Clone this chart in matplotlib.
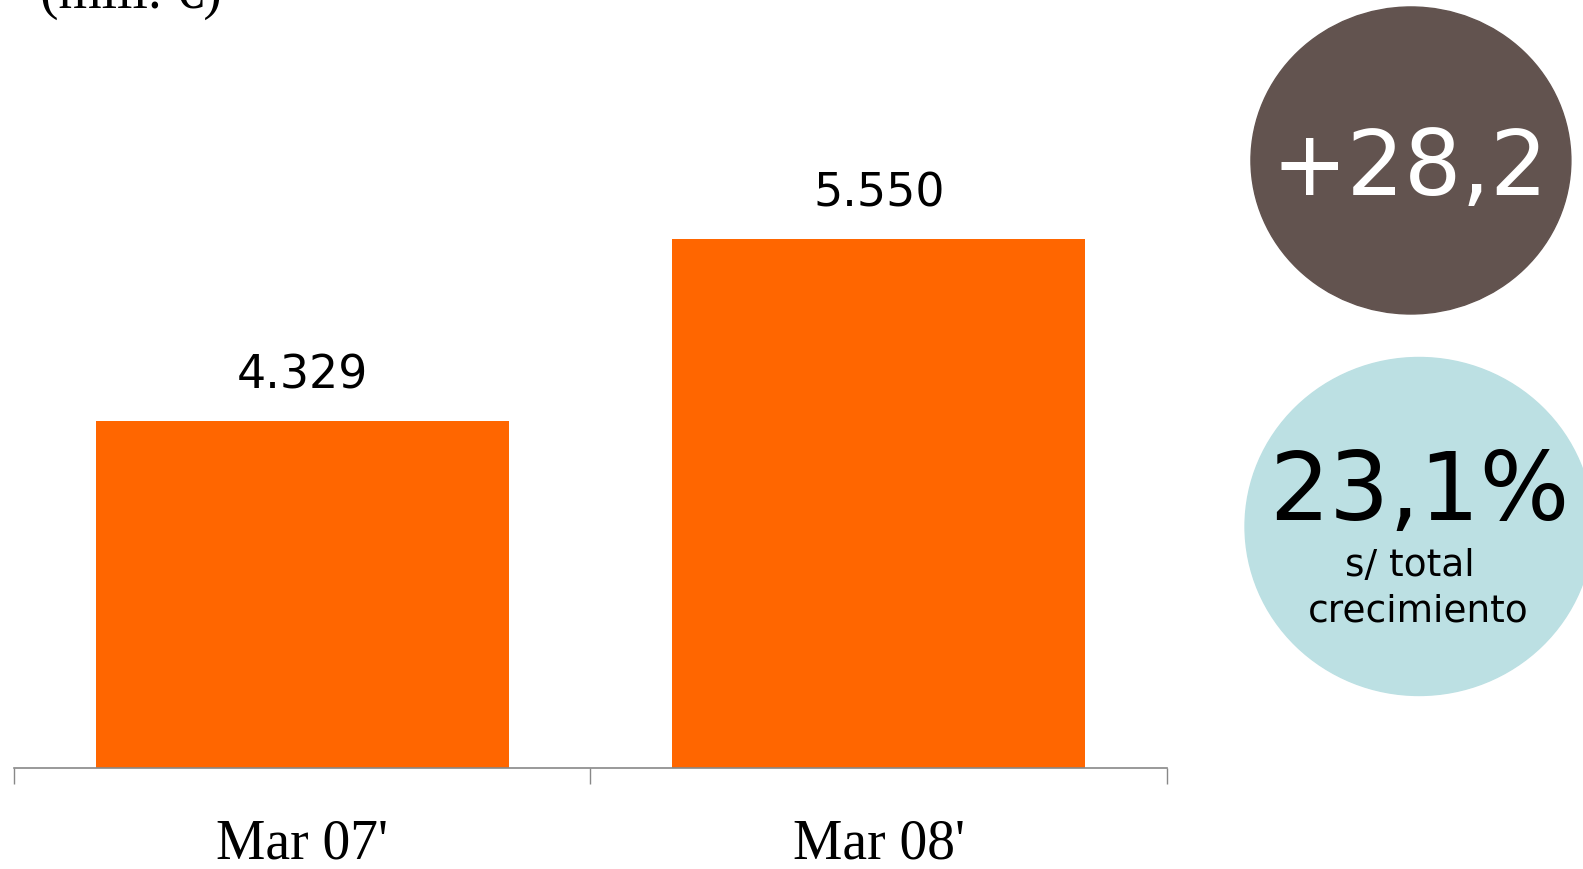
import matplotlib.pyplot as plt
from matplotlib.patches import Ellipse

periodos = ["Mar 07'", "Mar 08'"]
importe = [4329, 5550]
etiquetas = ["4.329", "5.550"]
crecimiento = "+28,2"
cuota = "23,1%"
cuota_texto = ["s/ total", "crecimiento"]

fig = plt.figure(figsize=(15.83, 8.70), dpi=100)
ax = fig.add_axes([0.0088, 0.1161, 0.7284, 0.8563])

x = range(len(periodos))
bars = ax.bar(x, importe, width=0.716, color='#FF6600')
ax.bar_label(bars, labels=etiquetas, padding=17, fontsize=33,
             family='DejaVu Sans', color='black')

ax.set_xlim(-0.5, 1.5)
ax.set_ylim(2000, 7000)
for s in ['top', 'right', 'left']:
    ax.spines[s].set_visible(False)
ax.spines['bottom'].set_color('#888888')
ax.spines['bottom'].set_linewidth(1.2)
ax.set_yticks([])

ax.set_xticks(list(x))
ax.set_xticklabels(periodos, family='Liberation Serif', fontsize=40)
ax.tick_params(axis='x', which='major', length=0, pad=36)
ax.set_xticks([-0.5, 0.5, 1.5], minor=True)
ax.tick_params(axis='x', which='minor', length=11.5, width=1, color='#888888')

fig.text(0.0253, 0.9908, "(mill. €)", family='Liberation Serif', fontsize=40,
         ha='left', va='baseline')

# circulos de la derecha
fig.add_artist(Ellipse((0.8913, 0.8144), 0.2021, 0.3529,
                       transform=fig.transFigure, color='#62534F'))
fig.add_artist(Ellipse((0.8964, 0.3937), 0.2198, 0.3885,
                       transform=fig.transFigure, color='#BCE0E3'))

fig.text(0.8907, 0.7759, crecimiento, color='white', fontsize=65,
         ha='center', va='baseline')
fig.text(0.8964, 0.4023, cuota, color='black', fontsize=68,
         ha='center', va='baseline')
fig.text(0.8903, 0.3374, cuota_texto[0], fontsize=27, ha='center', va='baseline')
fig.text(0.8958, 0.2862, cuota_texto[1], fontsize=27, ha='center', va='baseline')

fig.savefig('out.png', dpi=100)
